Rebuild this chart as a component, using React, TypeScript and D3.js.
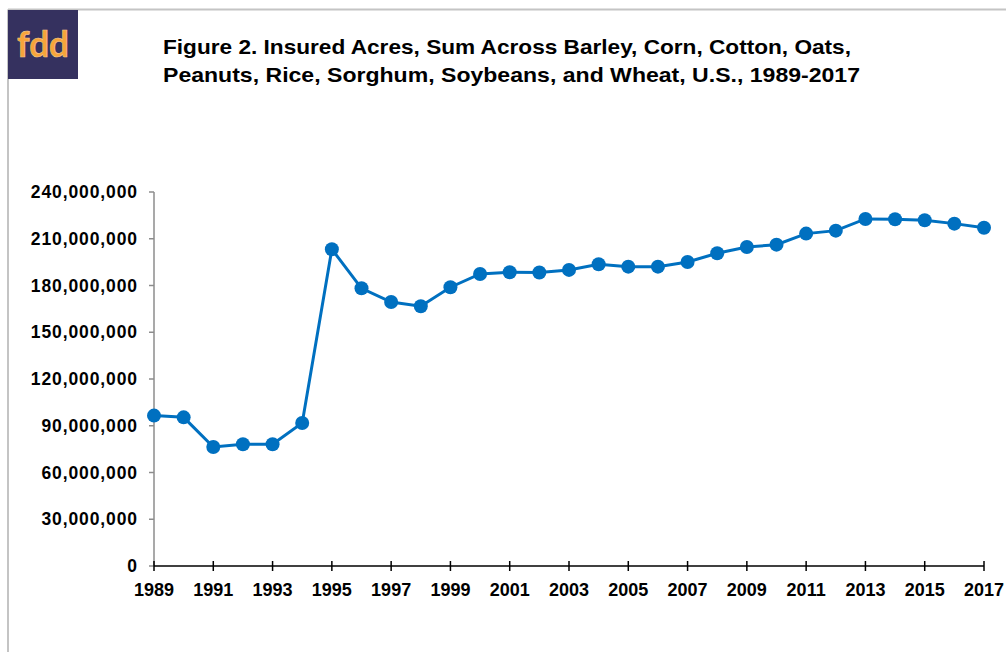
import React from "react";
import * as d3 from "d3";

// Insured acres, sum of nine crops, U.S.
const years = d3.range(1989, 2018);
const acres = [
  96.5, 95.4, 76.4, 78.1, 78.1, 91.8, 203.3, 178.2, 169.4, 166.7,
  178.9, 187.4, 188.5, 188.3, 190.0, 193.6, 192.1, 192.1, 195.1, 200.7,
  204.7, 206.2, 213.3, 215.2, 222.7, 222.5, 221.9, 219.7, 217.1,
].map((v) => v * 1e6);
const yTicks = d3.range(0, 240e6 + 1, 30e6);
const xTicks = d3.range(1989, 2018, 2);
const titleLines = [
  "Figure 2. Insured Acres, Sum Across Barley, Corn, Cotton, Oats,",
  "Peanuts, Rice, Sorghum, Soybeans, and Wheat, U.S., 1989-2017",
];

const W = 1006;
const H = 652;
const BLUE = "#0070C0";
const FONT = "'Liberation Sans', Arial, sans-serif";

export default function App() {
  const x = d3.scaleLinear().domain([1989, 2017]).range([154, 984]);
  const y = d3.scaleLinear().domain([0, 240e6]).range([566, 192]);
  const fmt = d3.format(",");

  const line = d3
    .line<number>()
    .x((_, i) => x(years[i]))
    .y((d) => y(d));

  return (
    <div style={{ position: "fixed", left: 0, top: 0 }}>
      <svg width={W} height={H} style={{ display: "block", background: "#fff" }}>
        {/* frame */}
        <line x1={8} x2={W} y1={9.5} y2={9.5} stroke="#c4c4c4" strokeWidth={2} />
        <line x1={8} x2={8} y1={9.5} y2={H} stroke="#c4c4c4" strokeWidth={2} />

        {/* logo */}
        <rect x={8} y={10} width={70} height={69} fill="#35315f" />
        <text
          x={43}
          y={57}
          textAnchor="middle"
          fontFamily="Lato, 'DejaVu Sans', sans-serif"
          fontWeight={700}
          fontSize={36}
          textLength={52}
          lengthAdjust="spacingAndGlyphs"
          fill="#f7a43a"
          stroke="#f3c98f"
          strokeWidth={0.6}
        >
          fdd
        </text>

        {/* title */}
        {titleLines.map((t, i) => (
          <text
            key={i}
            x={163}
            y={54 + i * 28}
            fontFamily={FONT}
            fontWeight={700}
            fontSize={21}
            textLength={i === 0 ? 688 : 697}
            lengthAdjust="spacingAndGlyphs"
            fill="#000"
          >
            {t}
          </text>
        ))}

        {/* y axis */}
        <line x1={x(1989)} x2={x(1989)} y1={y(240e6)} y2={y(0)} stroke="#8c8c8c" strokeWidth={1.5} />
        {yTicks.map((t) => (
          <g key={t}>
            <line x1={x(1989) - 5} x2={x(1989)} y1={y(t)} y2={y(t)} stroke="#8c8c8c" strokeWidth={1.5} />
            <text
              x={138}
              y={y(t) + 6}
              textAnchor="end"
              fontFamily={FONT}
              fontWeight={700}
              fontSize={17.5}
              letterSpacing={0.9}
              fill="#000"
            >
              {fmt(t)}
            </text>
          </g>
        ))}

        {/* x axis */}
        <line x1={x(1989)} x2={x(2017)} y1={y(0)} y2={y(0)} stroke="#000" strokeWidth={1.5} />
        {xTicks.map((yr) => (
          <g key={yr}>
            <line x1={x(yr)} x2={x(yr)} y1={y(0) - 5} y2={y(0) + 5} stroke="#000" strokeWidth={1.5} />
            <text
              x={x(yr)}
              y={596}
              textAnchor="middle"
              fontFamily={FONT}
              fontWeight={700}
              fontSize={18}
              fill="#000"
            >
              {yr}
            </text>
          </g>
        ))}

        {/* series */}
        <path d={line(acres) || ""} fill="none" stroke={BLUE} strokeWidth={3} />
        {acres.map((v, i) => (
          <circle key={years[i]} cx={x(years[i])} cy={y(v)} r={7} fill={BLUE} />
        ))}
      </svg>
    </div>
  );
}
